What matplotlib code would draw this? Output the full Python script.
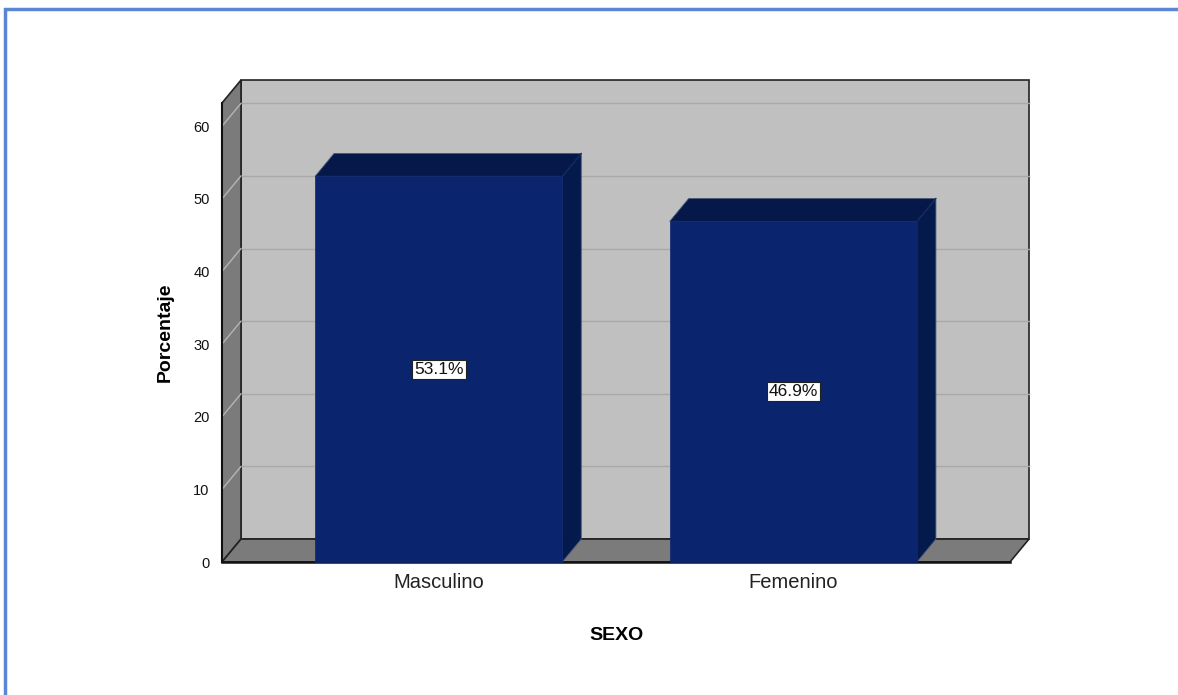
import numpy as np
import matplotlib
matplotlib.use("Agg")
import matplotlib.pyplot as plt
from matplotlib.patches import Rectangle, Polygon

plt.rcParams["font.family"] = ["Liberation Sans", "DejaVu Sans"]

# Data
categories = ["Masculino", "Femenino"]
percentages = [53.1, 46.9]
value_labels = ["53.1%", "46.9%"]
yticks = [0, 10, 20, 30, 40, 50, 60]

# Styles
FRONT = "#0A246E"
DARK = "#051A4C"
WALL = "#C0C0C0"
SIDE = "#7B7B7B"
BAR_W = 0.697
XLIM = (-0.611, 1.611)
YLIM = (0, 63.2)
DX = 19 / 354.5   # depth offset in data units (x)
DY = 23 / 7.28    # depth offset in data units (y)

W, H = 1178, 695
fig = plt.figure(figsize=(W / 100, H / 100), dpi=100)

# Blue frame around the chart
frame = fig.add_axes([0, 0, 1, 1])
frame.set_xlim(0, W)
frame.set_ylim(H, 0)
frame.axis("off")
frame.plot([5, 5, W + 5], [H + 5, 9, 9], color="#5B86D6", lw=2.5, solid_joinstyle="miter")

ax = fig.add_axes([222 / W, (H - 562) / H, (1010 - 222) / W, (562 - 103) / H])
ax.set_xlim(*XLIM)
ax.set_ylim(*YLIM)
ax.set_clip_on(False)
for s in ax.spines.values():
    s.set_visible(False)
ax.patch.set_visible(False)

x0, x1 = XLIM
ytop = YLIM[1]

# back wall
ax.add_patch(Rectangle((x0 + DX, DY), x1 - x0, ytop, facecolor=WALL, edgecolor="#222222",
                       lw=1.2, clip_on=False, zorder=1))
# left wall
ax.add_patch(Polygon([(x0, 0), (x0 + DX, DY), (x0 + DX, ytop + DY), (x0, ytop)],
                     facecolor=SIDE, edgecolor="#222222", lw=1.2, clip_on=False, zorder=2))
# floor
ax.add_patch(Polygon([(x0, 0), (x1, 0), (x1 + DX, DY), (x0 + DX, DY)],
                     facecolor=SIDE, edgecolor="#222222", lw=1.2, clip_on=False, zorder=2))
# gridlines
for t in yticks[1:]:
    ax.plot([x0 + DX, x1 + DX], [t + DY, t + DY], color="#A9A9A9", lw=1, zorder=1.5, clip_on=False)
    ax.plot([x0, x0 + DX], [t, t + DY], color="#B5B5B5", lw=1, zorder=2.5, clip_on=False)
ax.plot([x0, x0], [0, ytop], color="#111111", lw=1.5, zorder=3, clip_on=False)
ax.plot([x0, x1], [0, 0], color="#111111", lw=1.8, zorder=3, clip_on=False)

# bars
for i, (v, lab) in enumerate(zip(percentages, value_labels)):
    l, r = i - BAR_W / 2, i + BAR_W / 2
    ax.add_patch(Polygon([(r, 0), (r + DX, DY), (r + DX, v + DY), (r, v)],
                         facecolor=DARK, edgecolor="#4A5A78", lw=0.6, zorder=4, clip_on=False))
    ax.add_patch(Polygon([(l, v), (r, v), (r + DX, v + DY), (l + DX, v + DY)],
                         facecolor="#06184A", edgecolor="#4A5A78", lw=0.6, zorder=4, clip_on=False))
    ax.plot([r, r + DX], [v, v + DY], color="#0C2258", lw=0.8, zorder=4.5)
    ax.add_patch(Rectangle((l, 0), BAR_W, v, facecolor=FRONT, edgecolor=FRONT, lw=0.5,
                           zorder=5, clip_on=False))
    ax.text(i, v / 2, lab, ha="center", va="center", fontsize=12.5, color="#111111", zorder=6,
            bbox=dict(boxstyle="square,pad=0.12", facecolor="white", edgecolor="#222222", lw=0.8))

ax.set_yticks(yticks)
ax.set_yticklabels([str(t) for t in yticks], fontsize=10.5, color="#111111")
ax.tick_params(axis="y", length=0, pad=9)
ax.set_xticks(range(len(categories)))
ax.set_xticklabels(categories, fontsize=14.5, color="#222222")
ax.tick_params(axis="x", length=0, pad=8)
ax.set_xlabel("SEXO", fontsize=14, fontweight="bold", labelpad=25)
ax.set_ylabel("Porcentaje", fontsize=14, fontweight="bold", labelpad=14)

fig.savefig("out.png", dpi=100)
